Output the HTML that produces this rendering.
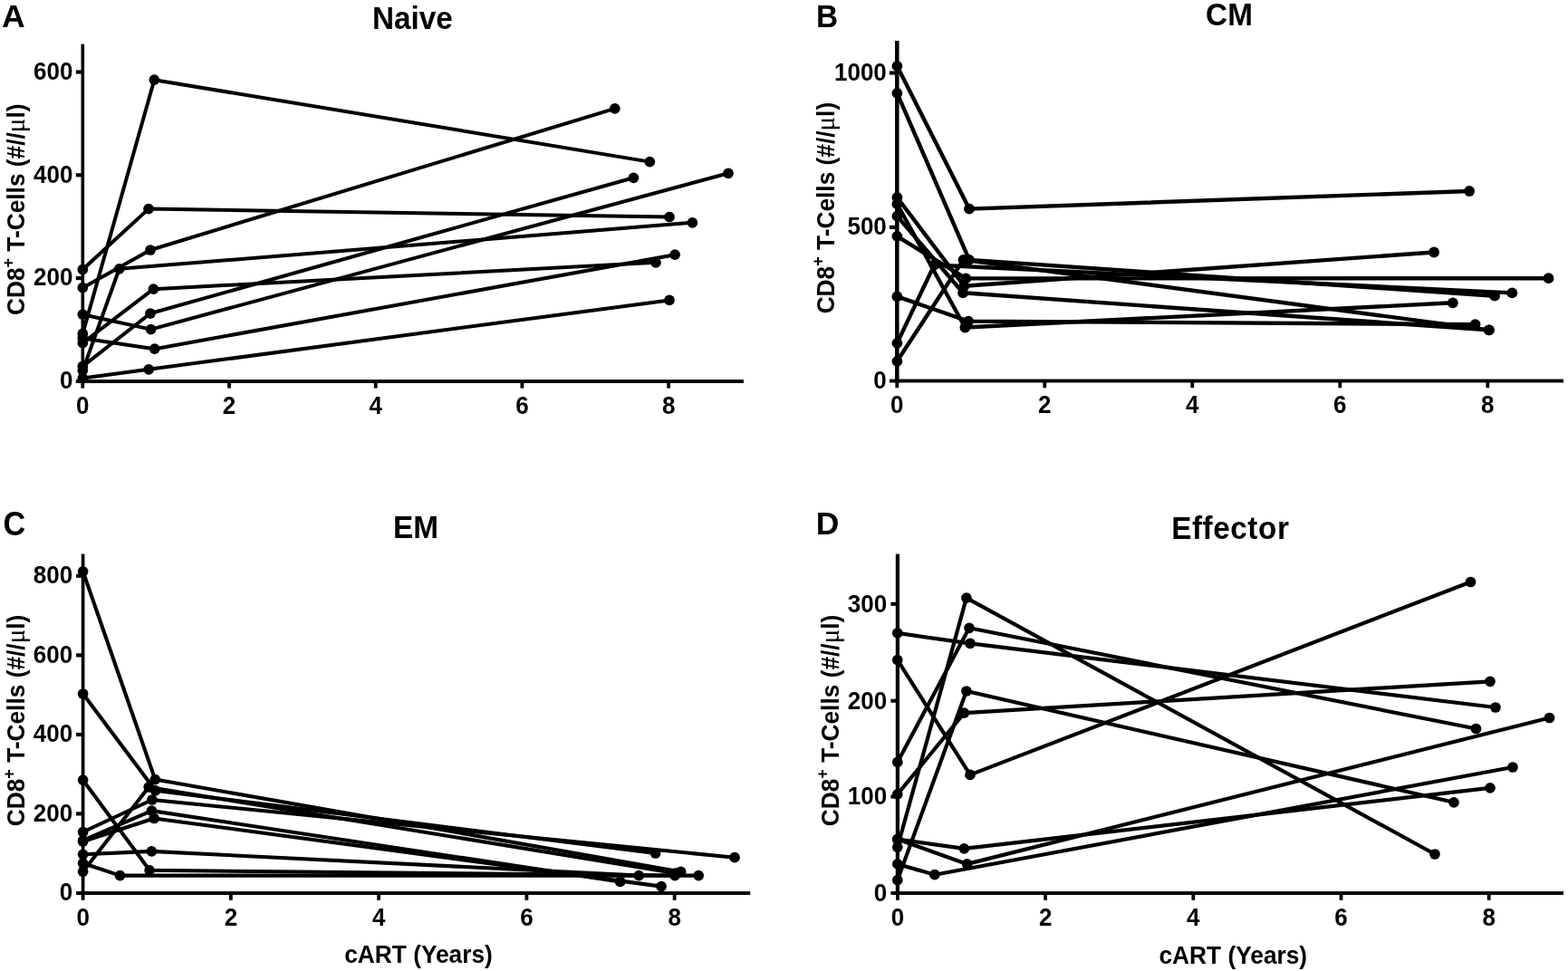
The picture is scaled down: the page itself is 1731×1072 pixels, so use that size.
<!DOCTYPE html>
<html lang="en"><head><meta charset="utf-8"><title>CD8+ T-cell subsets during cART</title>
<style>
html,body{margin:0;padding:0;background:#fff;}
body{width:1731px;height:1072px;overflow:hidden;}
svg{display:block;}
text{font-family:"Liberation Sans", Arial, Helvetica, sans-serif;font-weight:700;fill:#000;}
.tk{font-size:26px;}
.al{font-size:26.3px;}
.tt{font-size:33.3px;}
.pl{font-size:35.5px;}
.mu{font-family:"Liberation Serif","DejaVu Serif",serif;font-weight:400;}
.ln{fill:none;stroke:#000;stroke-linejoin:round;stroke-linecap:round;}
</style></head><body>
<svg width="1731" height="1072" viewBox="0 0 1731 1072">
<rect x="0" y="0" width="1731" height="1072" fill="#fff"/>
<g id="panel-A">
<text class="pl" x="2" y="30" style="font-size:35.5px">A</text>
<text class="tt" transform="translate(455.3 32) scale(1 1.05)" text-anchor="middle">Naive</text>
<text class="al" transform="translate(27.1 231.3) rotate(-90) scale(1 1.03)" text-anchor="middle">CD8<tspan dy="-11.3" font-size="18">+</tspan><tspan dy="11.3"> T-Cells (#//</tspan><tspan class="mu" font-size="29">μ</tspan>l)</text>
<rect x="89.5" y="48.7" width="3.6" height="374.25"/>
<rect x="83.8" y="419.05" width="737.1" height="3.9"/>
<text class="tk" transform="translate(80.4 429.3) scale(1 1.03)" text-anchor="end">0</text>
<rect x="83.8" y="305.05" width="7.5" height="4.1"/>
<text class="tk" transform="translate(80.4 315.4) scale(1 1.03)" text-anchor="end">200</text>
<rect x="83.8" y="191.25" width="7.5" height="4.1"/>
<text class="tk" transform="translate(80.4 201.6) scale(1 1.03)" text-anchor="end">400</text>
<rect x="83.8" y="77.45" width="7.5" height="4.1"/>
<text class="tk" transform="translate(80.4 87.8) scale(1 1.03)" text-anchor="end">600</text>
<rect x="89.4" y="421" width="3.8" height="7.6"/>
<text class="tk" transform="translate(91.3 456.7) scale(1 1.03)" text-anchor="middle">0</text>
<rect x="251.1" y="421" width="3.8" height="7.6"/>
<text class="tk" transform="translate(253 456.7) scale(1 1.03)" text-anchor="middle">2</text>
<rect x="412.8" y="421" width="3.8" height="7.6"/>
<text class="tk" transform="translate(414.7 456.7) scale(1 1.03)" text-anchor="middle">4</text>
<rect x="574.5" y="421" width="3.8" height="7.6"/>
<text class="tk" transform="translate(576.4 456.7) scale(1 1.03)" text-anchor="middle">6</text>
<rect x="736.2" y="421" width="3.8" height="7.6"/>
<text class="tk" transform="translate(738.1 456.7) scale(1 1.03)" text-anchor="middle">8</text>
<polyline class="ln" stroke-width="4" points="91.3,317.7 166,276 678.8,119.8"/>
<polyline class="ln" stroke-width="4" points="91.3,404.4 166,346 699.4,196.3"/>
<polyline class="ln" stroke-width="4" points="91.3,368.4 170.3,88.2 717.3,178.6"/>
<polyline class="ln" stroke-width="4" points="91.3,378.6 169.4,319.2 724,289.8"/>
<polyline class="ln" stroke-width="4" points="91.3,297.5 164,230.6 739,239.5"/>
<polyline class="ln" stroke-width="4" points="91.3,417.5 164.2,407.8 739,331.4"/>
<polyline class="ln" stroke-width="4" points="91.3,373.4 170.7,385.2 745.1,281.2"/>
<polyline class="ln" stroke-width="4" points="91.3,409.1 131.7,296.8 764.4,245.8"/>
<polyline class="ln" stroke-width="4" points="91.3,347.2 166.6,363.6 804,191.3"/>
<circle cx="91.3" cy="317.7" r="5.85"/>
<circle cx="166" cy="276" r="5.85"/>
<circle cx="678.8" cy="119.8" r="5.85"/>
<circle cx="91.3" cy="404.4" r="5.85"/>
<circle cx="166" cy="346" r="5.85"/>
<circle cx="699.4" cy="196.3" r="5.85"/>
<circle cx="91.3" cy="368.4" r="5.85"/>
<circle cx="170.3" cy="88.2" r="5.85"/>
<circle cx="717.3" cy="178.6" r="5.85"/>
<circle cx="91.3" cy="378.6" r="5.85"/>
<circle cx="169.4" cy="319.2" r="5.85"/>
<circle cx="724" cy="289.8" r="5.85"/>
<circle cx="91.3" cy="297.5" r="5.85"/>
<circle cx="164" cy="230.6" r="5.85"/>
<circle cx="739" cy="239.5" r="5.85"/>
<circle cx="91.3" cy="417.5" r="5.85"/>
<circle cx="164.2" cy="407.8" r="5.85"/>
<circle cx="739" cy="331.4" r="5.85"/>
<circle cx="91.3" cy="373.4" r="5.85"/>
<circle cx="170.7" cy="385.2" r="5.85"/>
<circle cx="745.1" cy="281.2" r="5.85"/>
<circle cx="91.3" cy="409.1" r="5.85"/>
<circle cx="131.7" cy="296.8" r="5.85"/>
<circle cx="764.4" cy="245.8" r="5.85"/>
<circle cx="91.3" cy="347.2" r="5.85"/>
<circle cx="166.6" cy="363.6" r="5.85"/>
<circle cx="804" cy="191.3" r="5.85"/>
</g>
<g id="panel-B">
<text class="pl" transform="translate(900.9 30.1) scale(1 1.063)" style="font-size:33.4px">B</text>
<text class="tt" transform="translate(1357 27.65) scale(1 1.05)" text-anchor="middle">CM</text>
<text class="al" transform="translate(920.6 229.6) rotate(-90) scale(1 1.03)" text-anchor="middle">CD8<tspan dy="-11.3" font-size="18">+</tspan><tspan dy="11.3"> T-Cells (#//</tspan><tspan class="mu" font-size="29">μ</tspan>l)</text>
<rect x="988.05" y="45" width="4.5" height="377.45"/>
<rect x="981.9" y="418.55" width="744.1" height="3.9"/>
<text class="tk" transform="translate(978.8 428.5) scale(1 1.03)" text-anchor="end">0</text>
<rect x="981.9" y="248.85" width="8.4" height="4.1"/>
<text class="tk" transform="translate(978.8 258.9) scale(1 1.03)" text-anchor="end">500</text>
<rect x="981.9" y="78.45" width="8.4" height="4.1"/>
<text class="tk" transform="translate(978.8 88.5) scale(1 1.03)" text-anchor="end">1000</text>
<rect x="988.4" y="420.5" width="3.8" height="7.7"/>
<text class="tk" transform="translate(990.3 455.8) scale(1 1.03)" text-anchor="middle">0</text>
<rect x="1151.4" y="420.5" width="3.8" height="7.7"/>
<text class="tk" transform="translate(1153.3 455.8) scale(1 1.03)" text-anchor="middle">2</text>
<rect x="1314.4" y="420.5" width="3.8" height="7.7"/>
<text class="tk" transform="translate(1316.3 455.8) scale(1 1.03)" text-anchor="middle">4</text>
<rect x="1477.4" y="420.5" width="3.8" height="7.7"/>
<text class="tk" transform="translate(1479.3 455.8) scale(1 1.03)" text-anchor="middle">6</text>
<rect x="1640.4" y="420.5" width="3.8" height="7.7"/>
<text class="tk" transform="translate(1642.3 455.8) scale(1 1.03)" text-anchor="middle">8</text>
<polyline class="ln" stroke-width="4.4" points="990.4,218 1064.4,315.8 1583.1,278.5"/>
<polyline class="ln" stroke-width="4.4" points="990.4,225.2 1065.4,361.5 1603.8,334.3"/>
<polyline class="ln" stroke-width="4.4" points="990.4,72.9 1070,230.6 1622.1,211"/>
<polyline class="ln" stroke-width="4.4" points="990.4,327.4 1069.1,354.6 1628.6,358.1"/>
<polyline class="ln" stroke-width="4.4" points="990.4,398.8 1063.5,286.9 1643.8,364.4"/>
<polyline class="ln" stroke-width="4.4" points="990.4,238.6 1063.1,323.3 1643.8,364.4"/>
<polyline class="ln" stroke-width="4.4" points="990.4,102.8 1070,286.9 1650,326.7"/>
<polyline class="ln" stroke-width="4.4" points="990.4,378.9 1031.4,292.5 1669.3,323.4"/>
<polyline class="ln" stroke-width="4.4" points="990.4,260.9 1066.3,307.4 1709.5,307.2"/>
<circle cx="990.4" cy="218" r="5.9"/>
<circle cx="1064.4" cy="315.8" r="5.9"/>
<circle cx="1583.1" cy="278.5" r="5.9"/>
<circle cx="990.4" cy="225.2" r="5.9"/>
<circle cx="1065.4" cy="361.5" r="5.9"/>
<circle cx="1603.8" cy="334.3" r="5.9"/>
<circle cx="990.4" cy="72.9" r="5.9"/>
<circle cx="1070" cy="230.6" r="5.9"/>
<circle cx="1622.1" cy="211" r="5.9"/>
<circle cx="990.4" cy="327.4" r="5.9"/>
<circle cx="1069.1" cy="354.6" r="5.9"/>
<circle cx="1628.6" cy="358.1" r="5.9"/>
<circle cx="990.4" cy="398.8" r="5.9"/>
<circle cx="1063.5" cy="286.9" r="5.9"/>
<circle cx="1643.8" cy="364.4" r="5.9"/>
<circle cx="990.4" cy="238.6" r="5.9"/>
<circle cx="1063.1" cy="323.3" r="5.9"/>
<circle cx="1643.8" cy="364.4" r="5.9"/>
<circle cx="990.4" cy="102.8" r="5.9"/>
<circle cx="1070" cy="286.9" r="5.9"/>
<circle cx="1650" cy="326.7" r="5.9"/>
<circle cx="990.4" cy="378.9" r="5.9"/>
<circle cx="1031.4" cy="292.5" r="5.9"/>
<circle cx="1669.3" cy="323.4" r="5.9"/>
<circle cx="990.4" cy="260.9" r="5.9"/>
<circle cx="1066.3" cy="307.4" r="5.9"/>
<circle cx="1709.5" cy="307.2" r="5.9"/>
</g>
<g id="panel-C">
<text class="pl" transform="translate(3.4 590.9) scale(1 1.065)" style="font-size:34.2px">C</text>
<text class="tt" transform="translate(458.9 594.4) scale(1 1.05)" text-anchor="middle">EM</text>
<text class="al" transform="translate(27.2 795.5) rotate(-90) scale(1 1.03)" text-anchor="middle">CD8<tspan dy="-11.3" font-size="18">+</tspan><tspan dy="11.3"> T-Cells (#//</tspan><tspan class="mu" font-size="29">μ</tspan>l)</text>
<text class="al" transform="translate(462 1063.2) scale(1 1.05)" text-anchor="middle">cART (Years)</text>
<rect x="89.75" y="611.6" width="3.7" height="376.35"/>
<rect x="84.1" y="984.05" width="744.1" height="3.9"/>
<text class="tk" transform="translate(80.1 994.4) scale(1 1.03)" text-anchor="end">0</text>
<rect x="84.1" y="896.35" width="7.5" height="4.1"/>
<text class="tk" transform="translate(80.1 906.8) scale(1 1.03)" text-anchor="end">200</text>
<rect x="84.1" y="808.95" width="7.5" height="4.1"/>
<text class="tk" transform="translate(80.1 819.4) scale(1 1.03)" text-anchor="end">400</text>
<rect x="84.1" y="721.35" width="7.5" height="4.1"/>
<text class="tk" transform="translate(80.1 731.8) scale(1 1.03)" text-anchor="end">600</text>
<rect x="84.1" y="633.75" width="7.5" height="4.1"/>
<text class="tk" transform="translate(80.1 644.2) scale(1 1.03)" text-anchor="end">800</text>
<rect x="89.7" y="986" width="3.8" height="7.8"/>
<text class="tk" transform="translate(91.6 1022.2) scale(1 1.03)" text-anchor="middle">0</text>
<rect x="252.96" y="986" width="3.8" height="7.8"/>
<text class="tk" transform="translate(254.86 1022.2) scale(1 1.03)" text-anchor="middle">2</text>
<rect x="416.22" y="986" width="3.8" height="7.8"/>
<text class="tk" transform="translate(418.12 1022.2) scale(1 1.03)" text-anchor="middle">4</text>
<rect x="579.48" y="986" width="3.8" height="7.8"/>
<text class="tk" transform="translate(581.38 1022.2) scale(1 1.03)" text-anchor="middle">6</text>
<rect x="742.74" y="986" width="3.8" height="7.8"/>
<text class="tk" transform="translate(744.64 1022.2) scale(1 1.03)" text-anchor="middle">8</text>
<polyline class="ln" stroke-width="4.1" points="91.6,943.3 167.4,939.9 705.3,966.6"/>
<polyline class="ln" stroke-width="4.1" points="91.6,927.8 167.4,895.1 684.7,973.4"/>
<polyline class="ln" stroke-width="4.1" points="91.6,630.8 171.3,860.6 751.6,962.4"/>
<polyline class="ln" stroke-width="4.1" points="91.6,929 170.1,903.5 730.1,978.6"/>
<polyline class="ln" stroke-width="4.1" points="91.6,962.3 164.2,869 745.5,964"/>
<polyline class="ln" stroke-width="4.1" points="91.6,861.2 165.1,960.8 745.1,966.6"/>
<polyline class="ln" stroke-width="4.1" points="91.6,766 171.6,872.8 723.6,942"/>
<polyline class="ln" stroke-width="4.1" points="91.6,953 132.5,966.6 771.2,966.6"/>
<polyline class="ln" stroke-width="4.1" points="91.6,918.5 167.9,883 811,946.7"/>
<circle cx="91.6" cy="943.3" r="5.85"/>
<circle cx="167.4" cy="939.9" r="5.85"/>
<circle cx="705.3" cy="966.6" r="5.85"/>
<circle cx="91.6" cy="927.8" r="5.85"/>
<circle cx="167.4" cy="895.1" r="5.85"/>
<circle cx="684.7" cy="973.4" r="5.85"/>
<circle cx="91.6" cy="630.8" r="5.85"/>
<circle cx="171.3" cy="860.6" r="5.85"/>
<circle cx="751.6" cy="962.4" r="5.85"/>
<circle cx="91.6" cy="929" r="5.85"/>
<circle cx="170.1" cy="903.5" r="5.85"/>
<circle cx="730.1" cy="978.6" r="5.85"/>
<circle cx="91.6" cy="962.3" r="5.85"/>
<circle cx="164.2" cy="869" r="5.85"/>
<circle cx="745.5" cy="964" r="5.85"/>
<circle cx="91.6" cy="861.2" r="5.85"/>
<circle cx="165.1" cy="960.8" r="5.85"/>
<circle cx="745.1" cy="966.6" r="5.85"/>
<circle cx="91.6" cy="766" r="5.85"/>
<circle cx="171.6" cy="872.8" r="5.85"/>
<circle cx="723.6" cy="942" r="5.85"/>
<circle cx="91.6" cy="953" r="5.85"/>
<circle cx="132.5" cy="966.6" r="5.85"/>
<circle cx="771.2" cy="966.6" r="5.85"/>
<circle cx="91.6" cy="918.5" r="5.85"/>
<circle cx="167.9" cy="883" r="5.85"/>
<circle cx="811" cy="946.7" r="5.85"/>
</g>
<g id="panel-D">
<text class="pl" transform="translate(900.8 590.3) scale(1 1.01)" style="font-size:35.5px">D</text>
<text class="tt" transform="translate(1358.3 594.5) scale(1 1.05)" text-anchor="middle" letter-spacing="0.55">Effector</text>
<text class="al" transform="translate(926 795.5) rotate(-90) scale(1 1.03)" text-anchor="middle">CD8<tspan dy="-11.3" font-size="18">+</tspan><tspan dy="11.3"> T-Cells (#//</tspan><tspan class="mu" font-size="29">μ</tspan>l)</text>
<text class="al" transform="translate(1361.3 1064.2) scale(1 1.05)" text-anchor="middle">cART (Years)</text>
<rect x="988.8" y="611.6" width="4.2" height="376.35"/>
<rect x="983.4" y="984.05" width="742.6" height="3.9"/>
<text class="tk" transform="translate(979.2 994.9) scale(1 1.03)" text-anchor="end">0</text>
<rect x="983.4" y="877.45" width="7.5" height="4.1"/>
<text class="tk" transform="translate(979.2 888.4) scale(1 1.03)" text-anchor="end">100</text>
<rect x="983.4" y="771.65" width="7.5" height="4.1"/>
<text class="tk" transform="translate(979.2 782.6) scale(1 1.03)" text-anchor="end">200</text>
<rect x="983.4" y="664.75" width="7.5" height="4.1"/>
<text class="tk" transform="translate(979.2 675.7) scale(1 1.03)" text-anchor="end">300</text>
<rect x="989" y="986" width="3.8" height="7.8"/>
<text class="tk" transform="translate(990.9 1022.4) scale(1 1.03)" text-anchor="middle">0</text>
<rect x="1152.2" y="986" width="3.8" height="7.8"/>
<text class="tk" transform="translate(1154.1 1022.4) scale(1 1.03)" text-anchor="middle">2</text>
<rect x="1315.4" y="986" width="3.8" height="7.8"/>
<text class="tk" transform="translate(1317.3 1022.4) scale(1 1.03)" text-anchor="middle">4</text>
<rect x="1478.6" y="986" width="3.8" height="7.8"/>
<text class="tk" transform="translate(1480.5 1022.4) scale(1 1.03)" text-anchor="middle">6</text>
<rect x="1641.8" y="986" width="3.8" height="7.8"/>
<text class="tk" transform="translate(1643.7 1022.4) scale(1 1.03)" text-anchor="middle">8</text>
<polyline class="ln" stroke-width="4.2" points="990.8,935.3 1066.9,660.1 1584,943"/>
<polyline class="ln" stroke-width="4.2" points="990.8,971.6 1066.9,763 1605,885.8"/>
<polyline class="ln" stroke-width="4.2" points="990.8,728.7 1071,855.4 1623.5,642.5"/>
<polyline class="ln" stroke-width="4.2" points="990.8,841.4 1070,693.3 1629.5,804.5"/>
<polyline class="ln" stroke-width="4.2" points="990.8,876.9 1064.4,787.2 1645,752.3"/>
<polyline class="ln" stroke-width="4.2" points="990.8,926.5 1064.4,936.8 1645,869.8"/>
<polyline class="ln" stroke-width="4.2" points="990.8,698.9 1071,710.4 1651,781"/>
<polyline class="ln" stroke-width="4.2" points="990.8,953.9 1031.8,965.7 1670,847"/>
<polyline class="ln" stroke-width="4.2" points="990.8,926.5 1067.6,953.9 1710.5,792.5"/>
<circle cx="990.8" cy="935.3" r="5.85"/>
<circle cx="1066.9" cy="660.1" r="5.85"/>
<circle cx="1584" cy="943" r="5.85"/>
<circle cx="990.8" cy="971.6" r="5.85"/>
<circle cx="1066.9" cy="763" r="5.85"/>
<circle cx="1605" cy="885.8" r="5.85"/>
<circle cx="990.8" cy="728.7" r="5.85"/>
<circle cx="1071" cy="855.4" r="5.85"/>
<circle cx="1623.5" cy="642.5" r="5.85"/>
<circle cx="990.8" cy="841.4" r="5.85"/>
<circle cx="1070" cy="693.3" r="5.85"/>
<circle cx="1629.5" cy="804.5" r="5.85"/>
<circle cx="990.8" cy="876.9" r="5.85"/>
<circle cx="1064.4" cy="787.2" r="5.85"/>
<circle cx="1645" cy="752.3" r="5.85"/>
<circle cx="990.8" cy="926.5" r="5.85"/>
<circle cx="1064.4" cy="936.8" r="5.85"/>
<circle cx="1645" cy="869.8" r="5.85"/>
<circle cx="990.8" cy="698.9" r="5.85"/>
<circle cx="1071" cy="710.4" r="5.85"/>
<circle cx="1651" cy="781" r="5.85"/>
<circle cx="990.8" cy="953.9" r="5.85"/>
<circle cx="1031.8" cy="965.7" r="5.85"/>
<circle cx="1670" cy="847" r="5.85"/>
<circle cx="990.8" cy="926.5" r="5.85"/>
<circle cx="1067.6" cy="953.9" r="5.85"/>
<circle cx="1710.5" cy="792.5" r="5.85"/>
</g>
</svg>
</body></html>
